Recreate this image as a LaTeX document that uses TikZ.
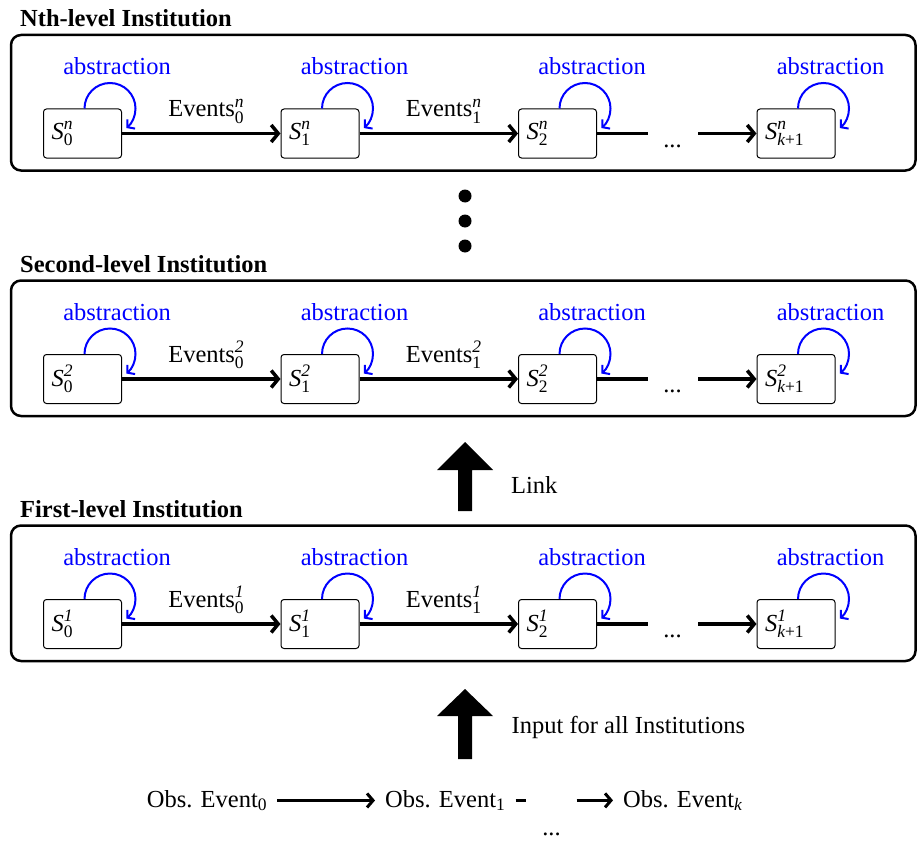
\documentclass[tikz,border=0pt]{standalone}
\usepackage{amsmath}
\usepackage{fontspec}
\setmainfont{Liberation Serif}
\usetikzlibrary{arrows.meta}
\DeclareMathSizes{24.5}{24.5}{17.5}{13}
\definecolor{absblue}{RGB}{0,0,255}
\tikzset{
  base font/.style={font=\fontsize{24.5}{29}\selectfont},
  frame/.style={draw, line width=2.5pt, rounded corners=10pt},
  leveltitle/.style={base font, font=\fontsize{24.5}{29}\selectfont\bfseries, anchor=base west, inner sep=0pt},
  statebox/.style={draw, line width=1pt, rounded corners=3pt, rectangle, minimum height=49pt,
     text width=62pt, inner xsep=8pt, inner ysep=0pt, align=left, base font},
  flow/.style={line width=3.5pt, -{Straight Barb[length=7pt,width=17pt]}},
  obsflow/.style={line width=3pt, -{Straight Barb[length=6pt,width=14pt]}},
  absloop/.style={absblue, line width=2pt, -{Straight Barb[length=5pt,width=12pt]}},
  abslab/.style={absblue, base font, anchor=base, inner sep=0pt},
  evlab/.style={base font, anchor=base, inner sep=0pt, yshift=17pt, xshift=5pt},
  plain/.style={base font, inner sep=0pt},
  obs/.style={base font, inner xsep=10pt, inner ysep=0pt, anchor=base west},
  dotc/.style={circle, fill, inner sep=0pt, minimum size=13pt},
}
\newcommand\instlevel[4]{%
  \draw[frame] (11,{-(#2-98.5)}) rectangle (915.5,{-(#2+37)});
  \node[leveltitle] (#1title) at (20,{-(#2-107)}) {#4};
  \node[statebox] (#1s0) at (82.5,-#2) {$\textit{S}^{\textit{#3}}_{\text{0}}$};
  \node[statebox] (#1s1) at (320,-#2) {$\textit{S}^{\textit{#3}}_{\text{1}}$};
  \node[statebox] (#1s2) at (557.5,-#2) {$\textit{S}^{\textit{#3}}_{\text{2}}$};
  \node[statebox] (#1s3) at (796,-#2) {$\textit{S}^{\textit{#3}}_{\textit{k}\text{+1}}$};
  \foreach \i in {0,1,2,3}{%
    \draw[absloop] ([xshift=2pt]#1s\i.north) arc[start angle=180,end angle=-50,radius=25.5];
    \node[abslab] (#1a\i) at ([xshift=34.5pt,yshift=59pt]#1s\i.center) {abstraction};
  }
  \draw[flow] (#1s0) -- node[evlab] (#1e0) {Events$^{\textit{#3}}_{\text{0}}$} (#1s1);
  \draw[flow] (#1s1) -- node[evlab] (#1e1) {Events$^{\textit{#3}}_{\text{1}}$} (#1s2);
  \coordinate (#1c1) at (648,-#2);
  \coordinate (#1c2) at (698,-#2);
  \draw[line width=3.5pt] (#1s2) -- (#1c1);
  \node[plain, anchor=base] (#1dots) at (672.5,{-(#2+13.5)}) {...};
  \draw[flow] (#1c2) -- (#1s3);
}
\begin{document}
\begin{tikzpicture}[x=1pt,y=1pt]
\useasboundingbox (0,0) rectangle (917,-840);
\instlevel{N}{133.5}{n}{Nth-level Institution}
\instlevel{B}{379}{2}{Second-level Institution}
\instlevel{A}{624}{1}{First-level Institution}
% vertical dots
\node[dotc] (d1) at (465,-196) {};
\node[dotc] (d2) at (465,-221) {};
\node[dotc] (d3) at (465,-246) {};
% link arrow
\fill (465,-442) -- (493,-470) -- (472,-470) -- (472,-511) -- (458,-511) -- (458,-470) -- (437,-470) -- cycle;
\node[plain, anchor=base west] (link) at (511,-493) {Link};
% input arrow
\fill (465,-689) -- (493,-716) -- (472,-716) -- (472,-759) -- (458,-759) -- (458,-716) -- (437,-716) -- cycle;
\node[plain, anchor=base west] (input) at (511.5,-733) {Input for all Institutions};
% observed events
\node[obs] (o0) at (136.7,-807) {Obs. Event$_{\text{0}}$};
\node[obs] (o1) at (375,-807) {Obs. Event$_{\text{1}}$};
\node[obs] (ok) at (613,-807) {Obs. Event$_{\textit{k}}$};
\draw[obsflow] (o0.east) -- (o1.west |- o0.east);
\draw[obsflow, dash pattern=on 10pt off 51pt on 60pt] (o1.east) -- (ok.west |- o1.east);
\node[plain, anchor=base] (odots) at (551.5,-835) {...};
\end{tikzpicture}
\end{document}
